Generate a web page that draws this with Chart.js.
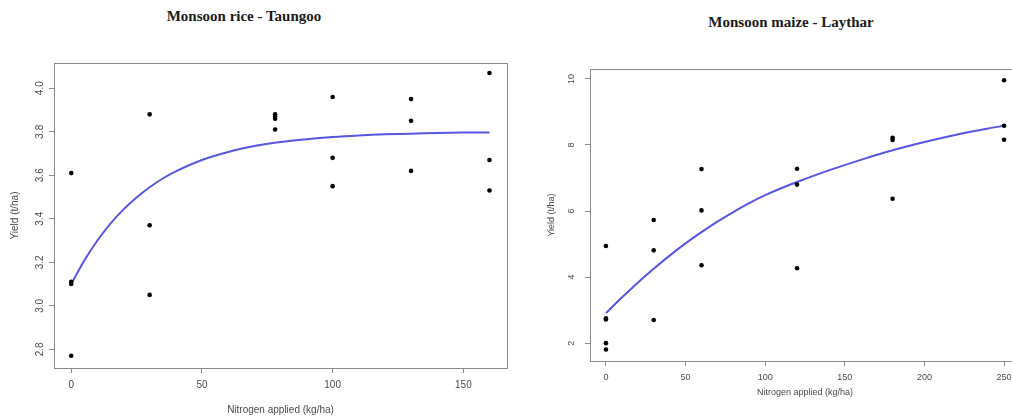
<!DOCTYPE html>
<html>
<head>
<meta charset="utf-8">
<script src="https://cdn.jsdelivr.net/npm/chart.js@4"></script>
<style>
  html, body { margin: 0; padding: 0; width: 1012px; height: 417px; overflow: hidden; background: #fff; }
  .title { position: absolute; font-family: "Liberation Serif", "Times New Roman", serif; font-weight: bold; font-size: 15px; color: #1a1a1a; transform: translateX(-50%); white-space: nowrap; line-height: 18px; }
  canvas { position: absolute; }
</style>
</head>
<body>
<div class="title" id="t1" style="left:244px; top:7px;"></div>
<div class="title" id="t2" style="left:791px; top:13px;"></div>
<canvas id="c1" style="left:0px; top:0px;" width="520" height="417"></canvas>
<canvas id="c2" style="left:530px; top:0px;" width="495" height="417"></canvas>
<script>
// ---- Data ----
const titleRice = "Monsoon rice - Taungoo";
const titleMaize = "Monsoon maize - Laythar";
const xAxisLabel = "Nitrogen applied (kg/ha)";
const yAxisLabel = "Yield (t/ha)";

const riceN     = [0, 0, 0, 0, 30, 30, 30, 78, 78, 78, 78, 100, 100, 100, 130, 130, 130, 160, 160, 160];
const riceYield = [3.61, 3.11, 3.10, 2.77, 3.88, 3.37, 3.05, 3.88, 3.87, 3.86, 3.81, 3.96, 3.68, 3.55, 3.95, 3.85, 3.62, 4.07, 3.67, 3.53];
const riceCurveN = [0, 5, 10, 15, 20, 25, 30, 35, 40, 50, 60, 70, 80, 90, 100, 110, 120, 130, 140, 150, 160];
const riceCurveY = [3.100, 3.208, 3.300, 3.378, 3.443, 3.498, 3.545, 3.585, 3.618, 3.670, 3.707, 3.734, 3.753, 3.766, 3.776, 3.783, 3.788, 3.791, 3.794, 3.796, 3.797];
const riceXTicks = [0, 50, 100, 150];
const riceYTicks = [2.8, 3.0, 3.2, 3.4, 3.6, 3.8, 4.0];

const maizeN     = [0, 0, 0, 0, 0, 30, 30, 30, 60, 60, 60, 120, 120, 120, 180, 180, 180, 250, 250, 250];
const maizeYield = [4.94, 2.75, 2.72, 2.00, 1.81, 5.73, 4.81, 2.70, 7.27, 6.02, 4.36, 7.28, 6.80, 4.27, 8.22, 8.15, 6.37, 9.96, 8.58, 8.16];
const maizeCurveN = [0, 10, 20, 30, 40, 50, 60, 70, 80, 90, 100, 110, 120, 140, 160, 180, 200, 220, 240, 250];
const maizeCurveY = [2.91, 3.38, 3.83, 4.25, 4.65, 5.02, 5.36, 5.68, 5.97, 6.24, 6.48, 6.69, 6.88, 7.23, 7.55, 7.84, 8.09, 8.31, 8.50, 8.58];
const maizeXTicks = [0, 50, 100, 150, 200, 250];
const maizeYTicks = [2, 4, 6, 8, 10];

document.getElementById('t1').textContent = titleRice;
document.getElementById('t2').textContent = titleMaize;

const boxPlugin = {
  id: 'box',
  afterDraw(chart) {
    const a = chart.chartArea, ctx = chart.ctx;
    ctx.save();
    ctx.strokeStyle = '#8a8a8a';
    ctx.lineWidth = 1;
    ctx.strokeRect(Math.round(a.left) + 0.5, Math.round(a.top) + 0.5, Math.round(a.right - a.left), Math.round(a.bottom - a.top));
    ctx.restore();
  }
};

function pairs(xs, ys) { return xs.map((x, i) => ({ x: x, y: ys[i] })); }

function makeChart(id, cfg) {
  const fontFam = '"Liberation Sans", Arial, sans-serif';
  return new Chart(document.getElementById(id), {
    type: 'scatter',
    data: {
      datasets: [
        {
          type: 'line',
          data: pairs(cfg.curveN, cfg.curveY),
          borderColor: '#5656e0',
          borderWidth: 2,
          pointRadius: 0,
          tension: 0.3,
          fill: false,
          order: 2
        },
        {
          data: pairs(cfg.n, cfg.y),
          backgroundColor: '#000',
          borderColor: '#000',
          pointRadius: 2.3,
          pointBorderWidth: 0,
          order: 1
        }
      ]
    },
    options: {
      responsive: false,
      animation: false,
      events: [],
      layout: { padding: cfg.padding },
      plugins: { legend: { display: false }, tooltip: { enabled: false }, title: { display: false } },
      scales: {
        x: {
          type: 'linear',
          min: cfg.xMin, max: cfg.xMax,
          afterBuildTicks: s => { s.ticks = cfg.xTicks.map(v => ({ value: v })); },
          afterFit: s => { s.height = cfg.xAxisHeight; },
          grid: { drawOnChartArea: false, drawTicks: true, tickLength: 5, color: '#8a8a8a', tickColor: '#8a8a8a' },
          border: { display: false },
          ticks: { font: { family: fontFam, size: cfg.fontSize }, color: '#4a4a4a', padding: cfg.xTickPad, maxRotation: 0, autoSkip: false, callback: v => String(v) },
          title: { display: true, text: xAxisLabel, font: { family: fontFam, size: cfg.fontSize }, color: '#4a4a4a', padding: { top: 0, bottom: cfg.xTitlePad } }
        },
        y: {
          type: 'linear',
          min: cfg.yMin, max: cfg.yMax,
          afterBuildTicks: s => { s.ticks = cfg.yTicks.map(v => ({ value: v })); },
          afterFit: s => { s.width = cfg.yAxisWidth; },
          grid: { drawOnChartArea: false, drawTicks: true, tickLength: 5, color: '#8a8a8a', tickColor: '#8a8a8a' },
          border: { display: false },
          ticks: { font: { family: fontFam, size: cfg.fontSize }, color: '#4a4a4a', padding: cfg.yTickPad, minRotation: 90, maxRotation: 90, crossAlign: 'center', autoSkip: false, callback: v => cfg.yFmt(v) },
          title: { display: true, text: yAxisLabel, font: { family: fontFam, size: cfg.fontSize }, color: '#4a4a4a', padding: { top: cfg.yTitlePad, bottom: 0 } }
        }
      }
    },
    plugins: [boxPlugin]
  });
}

makeChart('c1', {
  n: riceN, y: riceYield, curveN: riceCurveN, curveY: riceCurveY,
  xTicks: riceXTicks, yTicks: riceYTicks,
  xMin: -6.6, xMax: 166.7, yMin: 2.714, yMax: 4.116,
  padding: { left: 0, top: 63, right: 13, bottom: 0 },
  xAxisHeight: 49, yAxisWidth: 54,
  fontSize: 10, xTickPad: 6, xTitlePad: 1, yTickPad: 2, yTitlePad: 9,
  yFmt: v => v.toFixed(1)
});

makeChart('c2', {
  n: maizeN, y: maizeYield, curveN: maizeCurveN, curveY: maizeCurveY,
  xTicks: maizeXTicks, yTicks: maizeYTicks,
  xMin: -10, xMax: 260, yMin: 1.46, yMax: 10.30,
  padding: { left: 0, top: 69, right: 5, bottom: 0 },
  xAxisHeight: 56, yAxisWidth: 60,
  fontSize: 9, xTickPad: 6, xTitlePad: 19, yTickPad: 8, yTitlePad: 16,
  yFmt: v => String(v)
});
</script>
</body>
</html>
